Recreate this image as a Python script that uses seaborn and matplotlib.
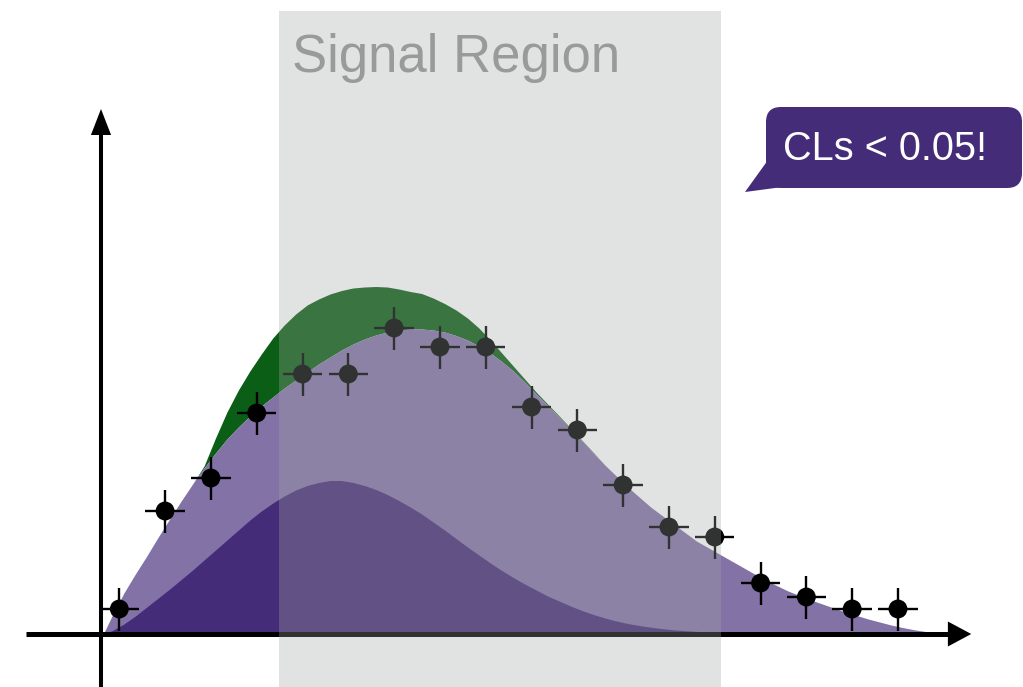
import matplotlib
matplotlib.use("Agg")
import matplotlib.pyplot as plt
from matplotlib.patches import Polygon, Rectangle, FancyBboxPatch
from matplotlib.transforms import IdentityTransform
import seaborn as sns
import pandas as pd

# ---- model curves, sampled along the observable ----
grid_x = [0.05, 0.25, 0.5, 0.75,
          1.0, 1.25, 1.5, 1.75,
          2.0, 2.25, 2.5, 2.75,
          3.0, 3.25, 3.5, 3.75,
          4.0, 4.25, 4.5, 4.75,
          5.0, 5.25, 5.5, 5.75,
          6.0, 6.25, 6.5, 6.75,
          7.0, 7.25, 7.5, 7.75,
          8.0, 8.25, 8.5, 8.75,
          9.0, 9.25, 9.5, 9.75,
          10.0, 10.25, 10.5, 10.75,
          11.0, 11.25, 11.5, 11.75,
          12.0, 12.25, 12.5, 12.75,
          13.0, 13.25, 13.5, 13.75,
          14.0, 14.25, 14.5, 14.75,
          15.0, 15.25, 15.5, 15.75,
          16.0, 16.25, 16.5, 16.75,
          17.0, 17.25, 17.5, 17.75,
          18.0, 18.25, 18.5]

# total background expectation
bkg_total = [0.0, 1.9, 4.1, 6.0,
             7.8, 9.7, 11.5, 13.3,
             15.0, 16.6, 18.1, 19.5,
             20.7, 21.8, 22.8, 23.7,
             24.6, 25.4, 26.2, 27.0,
             27.7, 28.4, 29.0, 29.5,
             29.9, 30.2, 30.4, 30.5,
             30.5, 30.4, 30.2, 29.85,
             29.4, 28.8, 28.1, 27.25,
             26.3, 25.2, 24.0, 22.85,
             21.7, 20.5, 19.3, 18.1,
             16.9, 15.8, 14.7, 13.7,
             12.7, 11.85, 11.0, 10.15,
             9.3, 8.65, 8.0, 7.35,
             6.7, 6.05, 5.4, 4.85,
             4.3, 3.85, 3.4, 3.0,
             2.6, 2.2, 1.85, 1.5,
             1.2, 0.9, 0.65, 0.43,
             0.25, 0.1, 0.0]

# first (dominant low-mass) background component
bkg_a = [0.0, 0.35, 1.0, 1.8,
         2.7, 3.6, 4.5, 5.45,
         6.4, 7.4, 8.4, 9.4,
         10.4, 11.4, 12.3, 13.1,
         13.8, 14.4, 14.85, 15.15,
         15.35, 15.35, 15.15, 14.85,
         14.45, 13.95, 13.35, 12.7,
         12.0, 11.2, 10.4, 9.55,
         8.7, 7.9, 7.1, 6.35,
         5.65, 5.0, 4.4, 3.8,
         3.3, 2.8, 2.35, 1.95,
         1.6, 1.3, 1.05, 0.85,
         0.68, 0.54, 0.42, 0.33,
         0.26, 0.2, 0.15, 0.11,
         0.08, 0.05, 0.03, 0.01,
         0.0, 0.0, 0.0, 0.0,
         0.0, 0.0, 0.0, 0.0,
         0.0, 0.0, 0.0, 0.0,
         0.0, 0.0, 0.0]

# signal hypothesis stacked on the total background
signal = [0.0, 0.0, 0.0, 0.0,
          0.0, 0.0, 0.0, 0.0,
          0.0, 0.2, 1.5, 2.7,
          3.7, 4.5, 5.2, 5.9,
          6.3, 6.6, 6.7, 6.5,
          6.3, 5.95, 5.6, 5.2,
          4.85, 4.5, 4.1, 3.75,
          3.55, 3.2, 2.85, 2.55,
          2.2, 1.8, 1.3, 0.85,
          0.5, 0.3, 0.2, 0.15,
          0.12, 0.1, 0.08, 0.05,
          0.0, 0.0, 0.0, 0.0,
          0.0, 0.0, 0.0, 0.0,
          0.0, 0.0, 0.0, 0.0,
          0.0, 0.0, 0.0, 0.0,
          0.0, 0.0, 0.0, 0.0,
          0.0, 0.0, 0.0, 0.0,
          0.0, 0.0, 0.0, 0.0,
          0.0, 0.0, 0.0]

# ---- observed data ----
bin_centers = [0.4, 1.4, 2.4, 3.4, 4.4, 5.4, 6.4, 7.4, 8.4, 9.4, 10.4, 11.4,
               12.4, 13.4, 14.4, 15.4, 16.4, 17.4]
observed = [2.5, 12.3, 15.6, 22.1, 26.0, 26.0, 30.6, 28.7, 28.7, 22.7, 20.4, 14.9,
            10.7, 9.7, 5.1, 3.7, 2.5, 2.5]
y_err = [2.15] * 18
x_err = [0.43] * 18

region_lo, region_hi = 3.89, 13.54
region_label = "Signal Region"
callout = "CLs < 0.05!"

sig_top = [b + s for b, s in zip(bkg_total, signal)]

sns.set_theme(style="white")
plt.rcParams["font.family"] = ["Liberation Sans", "DejaVu Sans"]

W, H = 1023, 687
fig = plt.figure(figsize=(W / 100, H / 100), dpi=100)
ax = fig.add_axes([0, 0, 1, 1])

c_dark = "#452c79"
c_light = "#8372a6"
c_green = "#0b5e16"

ax.fill_between(grid_x, bkg_total, sig_top, color=c_green, lw=0, zorder=1)
ax.fill_between(grid_x, 0, bkg_total, color=c_light, lw=0, zorder=2)
ax.fill_between(grid_x, 0, bkg_a, color=c_dark, lw=0, zorder=3)

# axes drawn as arrows
ax.plot([-1.64, 18.6], [0, 0], color="black", lw=3.6, solid_capstyle="butt", zorder=4)
ax.add_patch(Polygon([[18.49, 1.25], [19.0, 0], [18.49, -1.25]], closed=True,
                     color="black", lw=0, zorder=4))
ax.plot([0, 0], [-5.4, 50.5], color="black", lw=2.9, solid_capstyle="butt", zorder=4)
ax.add_patch(Polygon([[-0.22, 49.9], [0.0, 52.5], [0.22, 49.9]], closed=True,
                     color="black", lw=0, zorder=4))

# data points with error bars
ax.errorbar(bin_centers, observed, yerr=y_err, xerr=x_err, fmt="none",
            ecolor="black", elinewidth=1.7, capsize=0, zorder=5)
df = pd.DataFrame({"x": bin_centers, "y": observed})
sns.scatterplot(data=df, x="x", y="y", ax=ax, color="black", s=185,
                edgecolor="none", zorder=6, legend=False)

ax.set_xlim(-2.205, 20.13)
ax.set_ylim(-5.3, 63.4)
ax.axis("off")

# translucent signal-region band over everything
ax.add_patch(Rectangle((region_lo, -6), region_hi - region_lo, 62.3 + 6,
                       facecolor=(160 / 255, 166 / 255, 163 / 255), alpha=0.31,
                       lw=0, zorder=7))
ax.text(4.17, 56.2, region_label, color="#9a9a9a",
        fontsize=38, ha="left", va="baseline", zorder=8)

# speech-bubble callout (pixel coordinates)
px = IdentityTransform()
bubble = FancyBboxPatch((766, H - 188), 256, 81,
                        boxstyle="round,pad=0,rounding_size=15",
                        facecolor=c_dark, edgecolor="none", transform=px, zorder=9)
fig.patches.append(bubble)
tail = Polygon([[768, H - 160], [745, H - 192], [790, H - 186]], closed=True,
               facecolor=c_dark, edgecolor="none", transform=px, zorder=9)
fig.patches.append(tail)
fig.text(885.5 / W, (H - 149) / H, callout, color="white", fontsize=28.6,
         ha="center", va="center", zorder=10)

fig.savefig("out.png", dpi=100)
